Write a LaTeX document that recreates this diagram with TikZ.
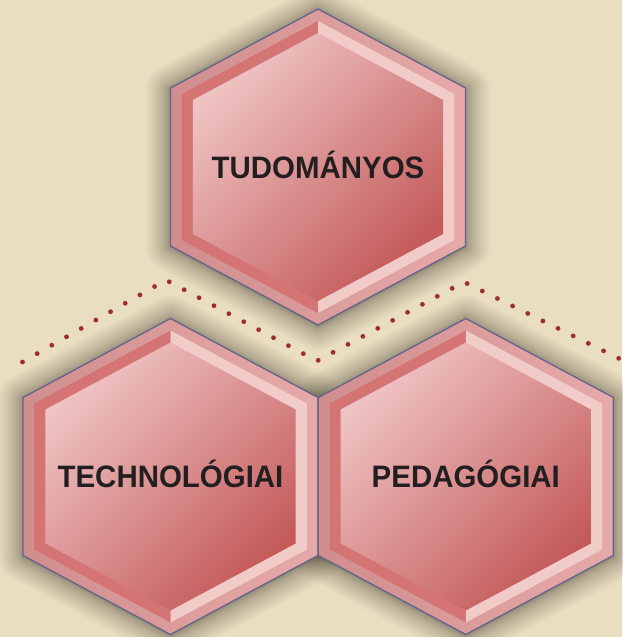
\documentclass[tikz,border=0pt]{standalone}
\usepackage{fontspec}
\setmainfont{Liberation Sans}

\definecolor{paper}{HTML}{EADEC0}
\definecolor{rim}{HTML}{66638C}
\definecolor{ringmid}{HTML}{E29A9A}
\definecolor{ringdark}{HTML}{D47474}
\definecolor{ringlight}{HTML}{F1CBC8}
\definecolor{facelight}{HTML}{EFC3C3}
\definecolor{facedark}{HTML}{C45A5A}
\definecolor{dotred}{HTML}{9E2A3A}
\definecolor{ink}{HTML}{231F20}
\definecolor{shade}{HTML}{3A3528}

\begin{document}
\begin{tikzpicture}[x=1pt,y=1pt,
    hexoutline/.style={insert path={(0,{158*#1}) -- ({147.5*#1},{79*#1}) -- ({147.5*#1},{-79*#1}) -- (0,{-158*#1}) -- ({-147.5*#1},{-79*#1}) -- ({-147.5*#1},{79*#1}) -- cycle}},
    lefthalf/.style={insert path={(0,{158*#1}) -- ({-147.5*#1},{79*#1}) -- ({-147.5*#1},{-79*#1}) -- (0,{-158*#1}) -- cycle}},
    righthalf/.style={insert path={(0,{158*#1}) -- ({147.5*#1},{79*#1}) -- ({147.5*#1},{-79*#1}) -- (0,{-158*#1}) -- cycle}},
    hexshadow/.style={draw=shade, draw opacity=0.028, line join=round, line width=#1},
    hexlabel/.style={anchor=base, yshift=-11.5pt, text=ink, font=\fontsize{31}{36}\selectfont\bfseries, xscale=0.95},
    dotline/.style={dotred, line width=4.8pt, line cap=round, dash pattern=on 0pt off 16.9pt}]
    \useasboundingbox (0,0) rectangle (622,637);
    \fill[paper] (0,0) rectangle (622,637);

    %Cells
    \coordinate (tudomanyos)    at (318,470);
    \coordinate (technologiai)  at (170.5,160.5);
    \coordinate (pedagogiai)    at (465.8,160.5);

    %Dotted border
    \coordinate (d0) at (22.5,275);
    \coordinate (d1) at (166,357);
    \coordinate (d2) at (317,276);
    \coordinate (d3) at (464,355);
    \coordinate (d4) at (620,278);
    \draw[dotline] (d0) -- (d1) -- (d2) -- (d3) -- (d4);

    %Shadows
    \foreach \cell in {tudomanyos,technologiai,pedagogiai}
        \foreach \k in {1,...,22}
            \path[shift={(\cell)}, yshift=-1pt, hexshadow={0.1pt*\k*\k}, hexoutline=1];

    %Hexagons
    \foreach \cell/\word in {tudomanyos/TUDOMÁNYOS,technologiai/TECHNOLÓGIAI,pedagogiai/PEDAGÓGIAI}{
        \begin{scope}[shift={(\cell)}]
            \path[draw=rim, line width=1.3pt, left color=ringmid!92!black, right color=ringmid!85!white, hexoutline=1];
            \fill[ringdark, lefthalf=0.924];
            \fill[ringlight, righthalf=0.924];
            \path[top color=facelight, bottom color=facedark, shading angle=45, hexoutline=0.848];
        \end{scope}
        \node[hexlabel] (\cell-label) at (\cell) {\word};
    }
\end{tikzpicture}
\end{document}
